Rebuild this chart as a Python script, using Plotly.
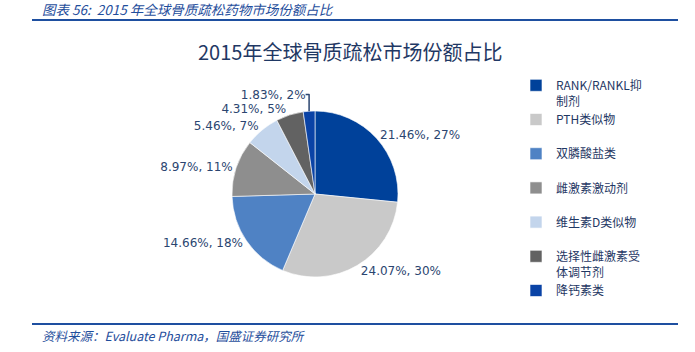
import plotly.graph_objects as go

labels = ["RANK/RANKL抑<br>制剂", "PTH类似物<br> ", "双膦酸盐类<br> ", "雌激素激动剂<br> ",
          "维生素D类似物<br> ", "选择性雌激素受<br>体调节剂", "降钙素类<br> "]
values = [21.46, 24.07, 14.66, 8.97, 5.46, 4.31, 1.83]
colors = ["#00419A", "#C9C9C9", "#4F82C4", "#8E8E8E", "#C3D5EC", "#626262", "#0A43A6"]

W, H = 695, 352
cx, cy, r = 315, 194, 83

fig = go.Figure(go.Pie(
    labels=labels, values=values, sort=False, direction="clockwise", rotation=0,
    marker=dict(colors=colors, line=dict(color="#FFFFFF", width=0.6)),
    texttemplate="%{value:.2f}%, %{percent:.0%}",
    textposition="outside",
    textfont=dict(family="DejaVu Sans", size=12, color="#2B4570"),
    domain=dict(x=[(cx - r) / W, (cx + r) / W], y=[(H - cy - r) / H, (H - cy + r) / H]),
    hoverinfo="label+value+percent",
))

fig.update_layout(
    width=W, height=H,
    margin=dict(l=0, r=0, t=0, b=0),
    paper_bgcolor="#FFFFFF", plot_bgcolor="#FFFFFF",
    showlegend=True,
    legend=dict(x=516 / W, y=1 - 71 / H, xanchor="left", yanchor="top",
                font=dict(family="Noto Sans CJK SC", size=12, color="#1F3864"),
                valign="top", tracegroupgap=0, itemwidth=30,
                bgcolor="rgba(0,0,0,0)"),
    font=dict(family="Noto Sans CJK SC"),
    annotations=[
        dict(text="<i>图表 56:  2015 年全球骨质疏松药物市场份额占比</i>", x=40 / W, y=1 - 9 / H,
             xref="paper", yref="paper", xanchor="left", yanchor="middle", showarrow=False,
             font=dict(family="Noto Sans CJK SC", size=13.5, color="#1F4E9C")),
        dict(text="2015年全球骨质疏松市场份额占比", x=350 / W, y=1 - 52 / H,
             xref="paper", yref="paper", xanchor="center", yanchor="middle", showarrow=False,
             font=dict(family="Noto Sans CJK SC", size=20, color="#1F3864")),
        dict(text="<i>资料来源：Evaluate Pharma，国盛证券研究所</i>", x=40 / W, y=1 - 335 / H,
             xref="paper", yref="paper", xanchor="left", yanchor="middle", showarrow=False,
             font=dict(family="Noto Sans CJK SC", size=12.5, color="#1F4E9C")),
    ],
    shapes=[
        dict(type="line", xref="paper", yref="paper", x0=32 / W, x1=678 / W,
             y0=1 - 20 / H, y1=1 - 20 / H, line=dict(color="#1E4FA0", width=2)),
        dict(type="line", xref="paper", yref="paper", x0=32 / W, x1=678 / W,
             y0=1 - 324 / H, y1=1 - 324 / H, line=dict(color="#1E4FA0", width=2)),
    ],
)

fig.write_html("out.html")
